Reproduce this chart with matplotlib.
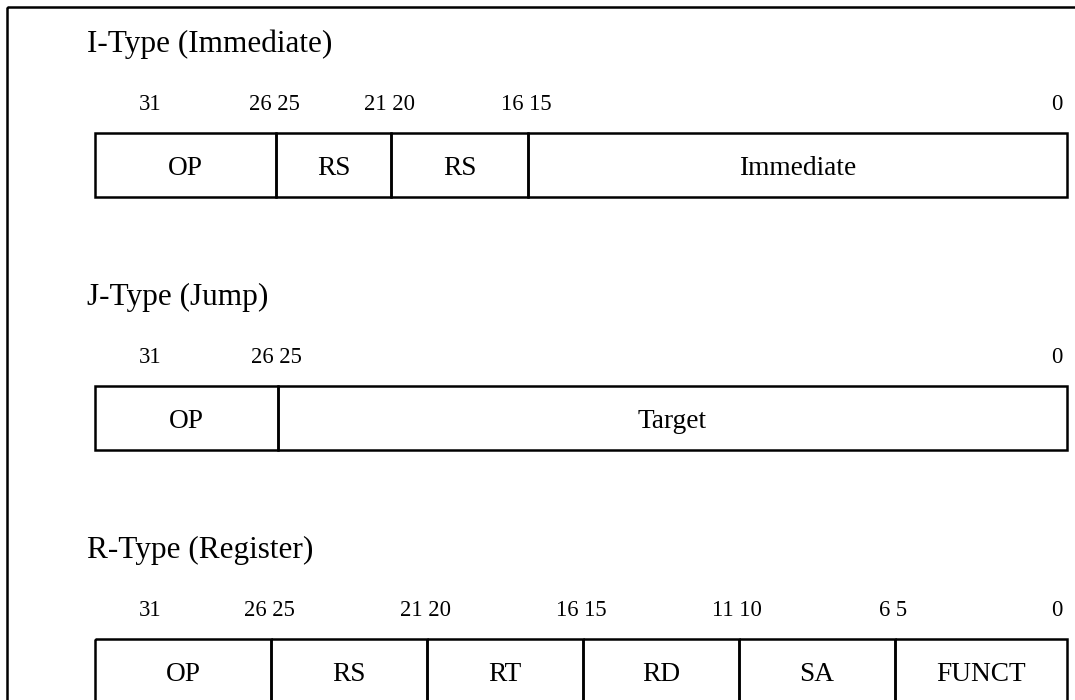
import matplotlib
matplotlib.use("Agg")
import matplotlib.pyplot as plt
from matplotlib.patches import Rectangle

plt.rcParams['font.family'] = ['Liberation Serif', 'DejaVu Serif']

# instruction formats: (title, field names, (high bit, low bit) per field)
titles = ["I-Type (Immediate)", "J-Type (Jump)", "R-Type (Register)"]
i_fields = ["OP", "RS", "RS", "Immediate"]
i_bits = [(31, 26), (25, 21), (20, 16), (15, 0)]
j_fields = ["OP", "Target"]
j_bits = [(31, 26), (25, 0)]
r_fields = ["OP", "RS", "RT", "RD", "SA", "FUNCT"]
r_bits = [(31, 26), (25, 21), (20, 16), (15, 11), (10, 6), (5, 0)]

# layout (pixels)
i_widths = [181, 115, 137, 539]
j_widths = [183, 789]
r_widths = [176, 156, 156, 156, 156, 172]
box_tops = [133, 386, 639]
box_h = 64
box_left = 95
title_x = 87

fig = plt.figure(figsize=(10.75, 7), dpi=100)
ax = fig.add_axes([0, 0, 1, 1])
ax.set_xlim(0, 1075)
ax.set_ylim(700, 0)
ax.axis('off')

# outer frame (runs off the right and bottom edge)
ax.add_patch(Rectangle((7, 7), 1100, 720, fill=False, lw=1.8, ec='black', clip_on=False))


def draw_format(title, names, bits, widths, top):
    ax.text(title_x, top - 81, title, fontsize=22.5, va='baseline', ha='left')
    x = box_left
    edges = [x]
    for name, w in zip(names, widths):
        ax.add_patch(Rectangle((x, top), w, box_h, fill=False, lw=1.8, ec='black'))
        ax.text(x + w / 2, top + 42, name, fontsize=19.7, ha='center', va='baseline')
        x += w
        edges.append(x)
    # bit numbers above the box
    num_y = top - 23
    ax.text(box_left + 55, num_y, str(bits[0][0]), fontsize=16.3, ha='center', va='baseline')
    for k in range(1, len(bits)):
        lab = "%d %d" % (bits[k - 1][1], bits[k][0])
        ax.text(edges[k] - 2, num_y, lab, fontsize=16.3, ha='center', va='baseline')
    ax.text(edges[-1] - 4, num_y, str(bits[-1][1]), fontsize=16.3, ha='right', va='baseline')


draw_format(titles[0], i_fields, i_bits, i_widths, box_tops[0])
draw_format(titles[1], j_fields, j_bits, j_widths, box_tops[1])
draw_format(titles[2], r_fields, r_bits, r_widths, box_tops[2])

fig.savefig("out.png", dpi=100)
